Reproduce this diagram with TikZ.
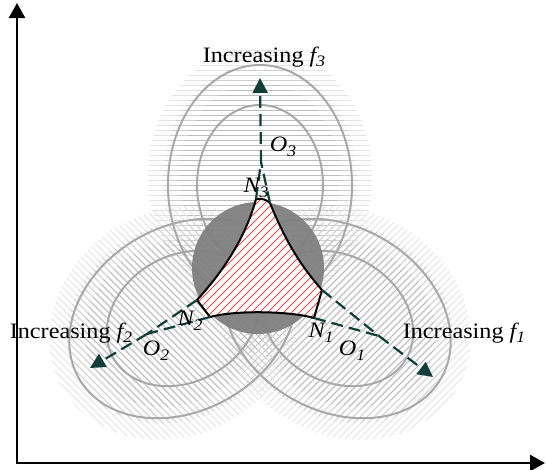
\documentclass[tikz,border=0pt]{standalone}
\usepackage{fontspec}
\setmainfont{Liberation Serif}[FakeStretch=1.1]
\usetikzlibrary{arrows.meta,calc}
\definecolor{flowteal}{RGB}{18,62,56}
\definecolor{hatchred}{RGB}{255,70,70}
\definecolor{contourgray}{RGB}{168,168,168}
\definecolor{diskgray}{RGB}{128,128,128}
\newcommand\lbl[2]{{\itshape #1}\raisebox{-0.22em}{\fontsize{16}{16}\selectfont\itshape #2}}
\begin{document}
\begin{tikzpicture}[x=1pt,y=-1pt,
  contour/.style={draw=contourgray, line width=2pt},
  hline/.style={line width=0.9pt},
  flow/.style={draw=flowteal, line width=2.2pt, dash pattern=on 12pt off 6pt},
  flowarrow/.style={flow, -{Triangle[length=15pt,width=15pt]}},
  axis/.style={line width=2.5pt, {Triangle[length=15pt,width=16pt]}-{Triangle[length=15pt,width=16pt]}},
  lab/.style={font=\fontsize{22}{26}\selectfont, inner sep=0pt},
]
\useasboundingbox (0,0) rectangle (546,469);

% ---- f3 hatch (horizontal)
\foreach \s/\c in {1/22, 0.86/38, 0.72/52} {
  \begin{scope}
    \clip[shift={(260,274)}, rotate=90] (98,0) ellipse [x radius={130*\s}, y radius={112*\s}];
    \foreach \yy in {40,45,...,330} \draw[hline, draw=gray!\c] (120,\yy) -- (400,\yy);
  \end{scope}
}
% ---- f1 hatch (/)
\foreach \s/\c in {1/22, 0.86/38, 0.72/52} {
  \begin{scope}
    \clip[shift={(260,274)}, rotate=-30] (98,0) ellipse [x radius={130*\s}, y radius={112*\s}];
    \foreach \k in {420,427,...,900} \draw[hline, draw=gray!\c] ({\k-500},500) -- (\k,0);
  \end{scope}
}
% ---- f2 hatch (\)
\foreach \s/\c in {1/22, 0.86/38, 0.72/52} {
  \begin{scope}
    \clip[shift={(260,274)}, rotate=-150] (98,0) ellipse [x radius={130*\s}, y radius={112*\s}];
    \foreach \k in {-400,-393,...,100} \draw[hline, draw=gray!\c] (\k,0) -- ({\k+500},500);
  \end{scope}
}

% ---- contour ellipses
\foreach \r in {90,-30,-150} {
  \draw[contour, shift={(260,274)}, rotate=\r] (89,0) ellipse [x radius=120, y radius=92];
  \draw[contour, shift={(260,274)}, rotate=\r] (89,0) ellipse [x radius=80, y radius=63];
}

% ---- gray disk
\fill[diskgray, opacity=0.95] (258,268) circle [radius=66];

% ---- feasible region
\coordinate (T3a) at (256,199);
\coordinate (T3b) at (270,203);
\coordinate (T1a) at (322,290);
\coordinate (T1b) at (314,318);
\coordinate (T2b) at (210,317);
\coordinate (T2a) at (197,300);
\def\region{(T3a) .. controls (262,198) and (267,200) .. (T3b)
  .. controls (285,240) and (300,265) .. (T1a) -- (T1b)
  .. controls (290,311) and (235,310) .. (T2b) -- (T2a)
  .. controls (220,275) and (245,240) .. (T3a) -- cycle}
\fill[white] \region;
\begin{scope}
  \clip \region;
  \foreach \k in {380,388,...,660} \draw[draw=hatchred, line width=0.8pt] ({\k-340},340) -- ({\k-180},180);
\end{scope}
\draw[line width=2pt, line join=round] \region;

% ---- dashed directions
\coordinate (O3p) at (261,162);
\coordinate (O1p) at (379,336);
\coordinate (O2p) at (147,334);
\coordinate (A3) at (260,78);
\coordinate (A1) at (433,377);
\coordinate (A2) at (90,368);
\draw[flow] (T3a) -- (O3p);
\draw[flow] (T3b) -- (O3p);
\draw[flowarrow] (O3p) -- (A3);
\draw[flow] (T1a) -- (O1p);
\draw[flow] (T1b) -- (O1p);
\draw[flowarrow] (O1p) -- (A1);
\draw[flow] (T2a) -- (O2p);
\draw[flow] (T2b) -- (O2p);
\draw[flowarrow] (O2p) -- (A2);

% ---- labels
\node[lab, anchor=base] (inc3) at (264,62) {Increasing \lbl{f}{3}};
\node[lab, anchor=base] (inc2) at (71,338) {Increasing \lbl{f}{2}};
\node[lab, anchor=base] (inc1) at (464,338) {Increasing \lbl{f}{1}};
\node[lab] (n3) at (256,188) {\lbl{N}{3}};
\node[lab] (n2) at (190,321) {\lbl{N}{2}};
\node[lab] (n1) at (321,333) {\lbl{N}{1}};
\node[lab] (o3) at (283,147) {\lbl{O}{3}};
\node[lab] (o2) at (156,351) {\lbl{O}{2}};
\node[lab] (o1) at (352,351) {\lbl{O}{1}};

% ---- axes
\coordinate (orig) at (17,463);
\coordinate (ytip) at (17,3);
\coordinate (xtip) at (545,463);
\draw[axis] (ytip) -- (orig) -- (xtip);
\end{tikzpicture}
\end{document}
